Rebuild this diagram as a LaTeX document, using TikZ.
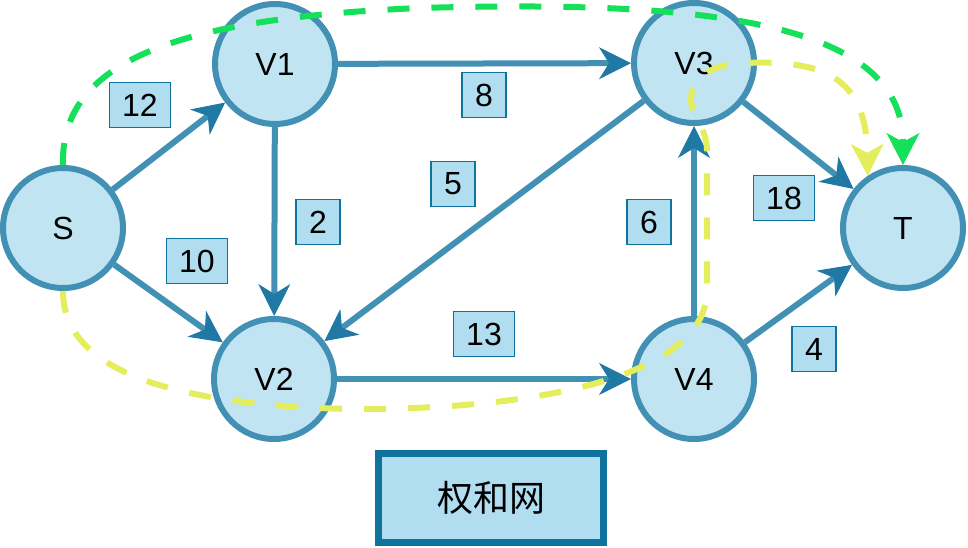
\documentclass[tikz,border=0pt]{standalone}
\usepackage{fontspec}
\setmainfont{Liberation Sans}
\newfontfamily\cjk{Noto Sans CJK SC}
\usetikzlibrary{arrows.meta}

\definecolor{nodefill}{RGB}{192,228,242}
\definecolor{nodeline}{RGB}{66,145,181}
\definecolor{tipblue}{RGB}{32,121,165}
\definecolor{boxfill}{RGB}{177,221,240}
\definecolor{boxline}{RGB}{16,115,158}
\definecolor{routegreen}{RGB}{20,224,90}
\definecolor{routeyellow}{RGB}{228,238,92}

\begin{document}
\begin{tikzpicture}[
	x=1pt, y=-1pt,
	vertex/.style={
		circle,draw=nodeline,fill=nodefill,line width=6pt,
		minimum size=120pt,inner sep=0pt,
		font=\fontsize{32}{38}\selectfont
	},
	weight/.style={
		rectangle,draw=boxline,fill=boxfill,line width=1.3pt,
		minimum height=45pt,inner xsep=13pt,inner ysep=0pt,
		font=\fontsize{32}{38}\selectfont
	},
	legend/.style={
		rectangle,draw=boxline,fill=boxfill,line width=7pt,
		minimum width=225pt,minimum height=89pt,
		font=\cjk\fontsize{36}{40}\selectfont
	},
	edge/.style={
		draw=nodeline,line width=6pt,
		-{Stealth[length=32pt,width=32pt,inset=10pt,line width=1pt,color=tipblue]}
	},
	route/.style={
		line width=6pt,dash pattern=on 22pt off 22pt,
		-{Stealth[length=32pt,width=33pt,inset=9pt,line width=1pt]}
	}
]
\useasboundingbox (0,0) rectangle (968,548);

% vertices
\node[vertex] (S)  at (63,228)  {S};
\node[vertex] (V1) at (275,64)  {V1};
\node[vertex] (V2) at (274,379) {V2};
\node[vertex] (V3) at (694,63)  {V3};
\node[vertex] (V4) at (694,379) {V4};
\node[vertex] (T)  at (903,228) {T};

% edges
\draw[edge] (S) -- (V1);
\draw[edge] (S) -- (V2);
\draw[edge] (V1) -- (V2);
\draw[edge] (V1) -- (V3);
\draw[edge] (V3) -- (V2);
\draw[edge] (V2) -- (V4);
\draw[edge] (V4) -- (V3);
\draw[edge] (V3) -- (T);
\draw[edge] (V4) -- (T);

% weights
\node[weight] (w12) at (140,105) {12};
\node[weight] (w10) at (197,261) {10};
\node[weight] (w2)  at (318,222) {2};
\node[weight] (w8)  at (484,95)  {8};
\node[weight] (w5)  at (453,184) {5};
\node[weight] (w13) at (484,334) {13};
\node[weight] (w6)  at (649,222) {6};
\node[weight] (w18) at (784,198) {18};
\node[weight] (w4)  at (814,349) {4};

% routes
\draw[route,routegreen] (S.north)
	.. controls (60,60) and (180,18) .. (420,8)
	.. controls (700,0) and (903,20) .. (T.north);
\draw[route,routeyellow] (S.south)
	.. controls (63,370) and (170,405) .. (350,409)
	.. controls (560,410) and (707,370) .. (707,290)
	-- (707,150)
	.. controls (707,128) and (690,115) .. (691,98)
	.. controls (692,75) and (715,64) .. (745,63)
	.. controls (820,60) and (866,75) .. (T.124);

\node[legend] (key) at (491,498) {权和网};

\end{tikzpicture}
\end{document}
